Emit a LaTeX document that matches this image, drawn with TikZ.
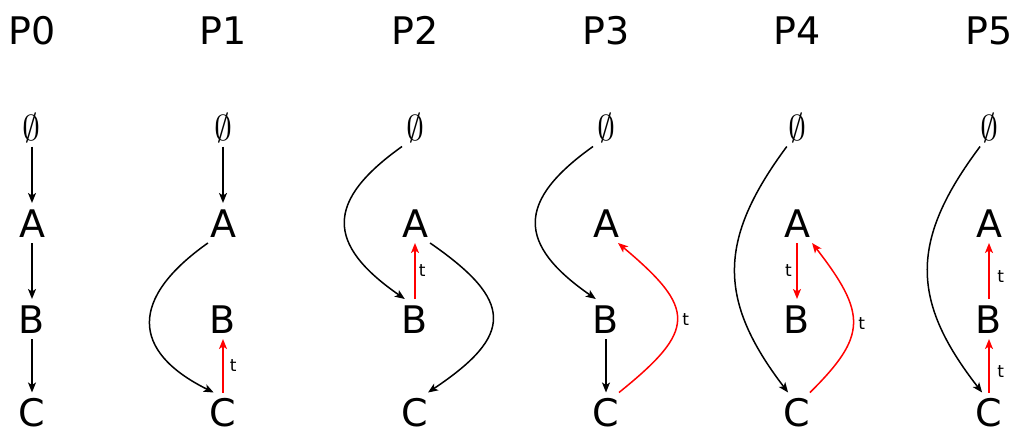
\documentclass[tikz,border=0pt]{standalone}
\usepackage{fontspec}
\setmainfont{DejaVu Sans}
\usetikzlibrary{arrows.meta}
\newcommand{\bigempty}{\scalebox{3.6}{$\emptyset$}}
\begin{document}
\begin{tikzpicture}[x=1pt,y=-1pt,
  lbl/.style={font=\fontsize{38pt}{38pt}\selectfont, inner sep=0pt, outer sep=0pt,
    text height=28pt, text depth=0pt, minimum width=36pt, minimum height=40pt},
  esl/.style={lbl, font=\normalsize},
  ttl/.style={font=\fontsize{38pt}{38pt}\selectfont, inner sep=0pt, text height=28pt, text depth=0pt},
  con/.style={line width=1.5pt, -{Stealth[length=10pt,width=8pt,inset=2.5pt]}},
  rcon/.style={con, red},
  tlbl/.style={font=\fontsize{17pt}{17pt}\selectfont, inner sep=0pt, text=black}]
\useasboundingbox (0,0) rectangle (1013,428);
% columns
\foreach \i/\x in {0/32,1/223,2/415,3/606,4/797,5/989}{
  \node[ttl] (p\i) at (\x+0.5,31) {P\i};
  \node[esl] (e\i) at (\x,126.5) {\bigempty};
  \node[lbl] (a\i) at (\x,223) {A};
  \node[lbl] (b\i) at (\x,319) {B};
  \node[lbl] (c\i) at (\x,412.5) {C};
}
% P0
\draw[con] (e0) -- (a0);
\draw[con] (a0) -- (b0);
\draw[con] (b0) -- (c0);
% P1
\draw[con] (e1) -- (a1);
\draw[con] (a1.-127) .. controls (130,298) and (130,351) .. (c1.115);
\draw[rcon] (c1) -- node[tlbl, midway, anchor=west, xshift=6pt] {t} (b1);
% P2
\draw[con] (e2.-123) .. controls (325.5,201) and (325.5,244) .. (b2.117);
\draw[con] (a2.-53) .. controls (514,301) and (514,335) .. (c2.57);
\draw[rcon] (b2) -- node[tlbl, midway, anchor=west, xshift=3pt] {t} (a2);
% P3
\draw[con] (e3.-123) .. controls (516.5,201) and (516.5,244) .. (b3.117);
\draw[con] (b3) -- (c3);
\draw[rcon] (c3.57) .. controls (696.5,330) and (696.5,309) .. node[tlbl, pos=0.5, anchor=west, xshift=4.5pt] {t} (a3.-59);
% P4
\draw[con] (e4.-117) .. controls (717.5,240) and (717.5,300) .. (c4.114);
\draw[rcon] (a4) -- node[tlbl, midway, anchor=east, xshift=-4.5pt] {t} (b4);
\draw[rcon] (c4.57) .. controls (867,336) and (867,314) .. node[tlbl, pos=0.5, anchor=west, xshift=4.5pt] {t} (a4.-53);
% P5
\draw[con] (e5.-114) .. controls (910,240) and (910,300) .. (c5.109);
\draw[rcon] (b5) -- node[tlbl, midway, anchor=west, xshift=7.5pt, yshift=-6pt] {t} (a5);
\draw[rcon] (c5) -- node[tlbl, midway, anchor=west, xshift=7.5pt, yshift=-6pt] {t} (b5);
\end{tikzpicture}
\end{document}
